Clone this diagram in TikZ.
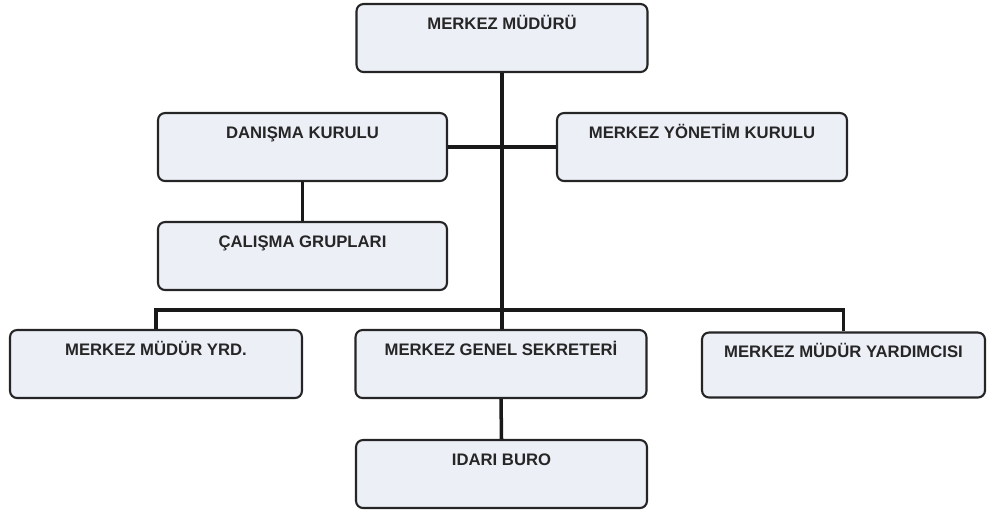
\documentclass[tikz,border=0pt]{standalone}
\usepackage{fontspec}
\setmainfont{Liberation Sans}
\definecolor{boxfill}{HTML}{EDEFF7}
\definecolor{boxline}{HTML}{252525}
\begin{document}
\begin{tikzpicture}[x=0.02cm,y=-0.02cm,
    unit/.style={draw=boxline, fill=boxfill, line width=1.2pt, rounded corners=4pt,
      inner sep=0pt, minimum width=5.82cm, text height=0.5cm, text depth=0.86cm,
      font=\bfseries\fontsize{9.5}{11}\selectfont, text=black!85},
    link/.style={line width=2pt, black!90}]
    \useasboundingbox (0,0) rectangle (987,512);
    \node [unit] (mudur) at (502,38) {MERKEZ MÜDÜRÜ};
    \node [unit, minimum width=5.78cm] (danisma) at (302.5,147) {DANIŞMA KURULU};
    \node [unit, minimum width=5.8cm] (yonetim) at (702,147) {MERKEZ YÖNETİM KURULU};
    \node [unit, minimum width=5.78cm] (calisma) at (302.5,256) {ÇALIŞMA GRUPLARI};
    \node [unit, minimum width=5.84cm] (yrd) at (156,364) {MERKEZ MÜDÜR YRD.};
    \node [unit] (genel) at (501,364) {MERKEZ GENEL SEKRETERİ};
    \node [unit, minimum width=5.66cm, text depth=0.8cm] (yardimci) at (843.5,365) {MERKEZ MÜDÜR YARDIMCISI};
    \node [unit] (idari) at (501.5,474) {IDARI BURO};
    \coordinate (bar) at (502,310);
    \draw [link] (mudur.south) -- (mudur.south |- genel.north);
    \draw [link] (danisma.east) -- (yonetim.west);
    \draw [link] (danisma.south) -- (calisma.north);
    \draw [link] (yrd.north) |- (bar) -| (yardimci.north);
    \draw [link] (genel.south) -- (idari.north);
\end{tikzpicture}
\end{document}
